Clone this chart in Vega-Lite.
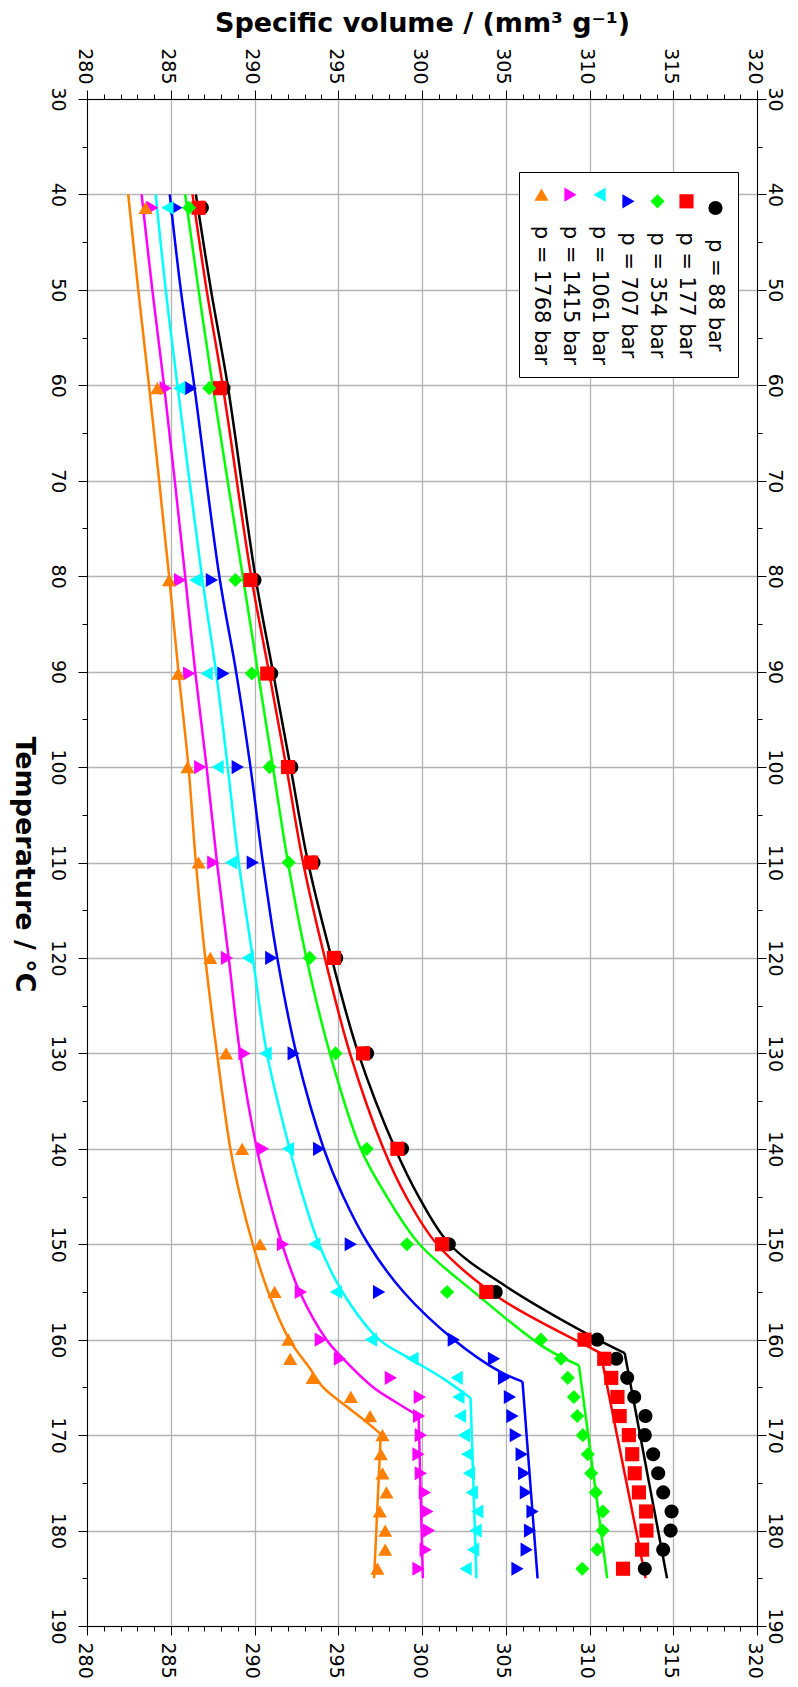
{
"$schema": "https://vega.github.io/schema/vega-lite/v6.json",
"width": 670, "height": 1527,
"autosize": {"type": "none"},
"padding": {"left": 87, "top": 99, "right": 41, "bottom": 61},
"background": "white",
"config": {
 "view": {"stroke": null},
 "axis": {"domainColor": "black", "domainWidth": 1, "tickColor": "black", "tickWidth": 1, "tickSize": 9, "labelColor": "black", "titleColor": "black", "labelFont": "DejaVu Sans", "labelFontSize": 19, "titleFont": "DejaVu Sans", "titleFontSize": 27, "titleFontWeight": "bold", "gridColor": "#b3b3b3", "gridWidth": 1.3, "labelAngle": 90, "labelFlush": false, "labelOverlap": false}
},
"datasets": {
 "fits": [
{"series":"p = 88 bar","seg":"a","T":40,"V":286.5},{"series":"p = 88 bar","seg":"a","T":50,"V":287.4},{"series":"p = 88 bar","seg":"a","T":60,"V":288.4},{"series":"p = 88 bar","seg":"a","T":80,"V":290.05},{"series":"p = 88 bar","seg":"a","T":90,"V":291.1},{"series":"p = 88 bar","seg":"a","T":100,"V":292.15},{"series":"p = 88 bar","seg":"a","T":110,"V":293.2},{"series":"p = 88 bar","seg":"a","T":120,"V":294.6},{"series":"p = 88 bar","seg":"a","T":130,"V":296.2},{"series":"p = 88 bar","seg":"a","T":140,"V":298.4},{"series":"p = 88 bar","seg":"a","T":145,"V":299.8},{"series":"p = 88 bar","seg":"a","T":150,"V":301.65},{"series":"p = 88 bar","seg":"a","T":154.4,"V":305.0},{"series":"p = 88 bar","seg":"a","T":159.6,"V":310.07},{"series":"p = 88 bar","seg":"a","T":161.4,"V":312.1},{"series":"p = 88 bar","seg":"b","T":161.4,"V":312.1},{"series":"p = 88 bar","seg":"b","T":185,"V":314.63},
{"series":"p = 177 bar","seg":"a","T":40,"V":286.3},{"series":"p = 177 bar","seg":"a","T":50,"V":287.14},{"series":"p = 177 bar","seg":"a","T":60,"V":288.1},{"series":"p = 177 bar","seg":"a","T":80,"V":289.8},{"series":"p = 177 bar","seg":"a","T":90,"V":290.86},{"series":"p = 177 bar","seg":"a","T":100,"V":291.9},{"series":"p = 177 bar","seg":"a","T":110,"V":292.9},{"series":"p = 177 bar","seg":"a","T":120,"V":294.2},{"series":"p = 177 bar","seg":"a","T":130,"V":295.7},{"series":"p = 177 bar","seg":"a","T":140,"V":297.7},{"series":"p = 177 bar","seg":"a","T":145,"V":299.05},{"series":"p = 177 bar","seg":"a","T":150,"V":300.9},{"series":"p = 177 bar","seg":"a","T":155.6,"V":304.6},{"series":"p = 177 bar","seg":"a","T":160.5,"V":309.67},{"series":"p = 177 bar","seg":"a","T":161.4,"V":310.66},{"series":"p = 177 bar","seg":"b","T":161.4,"V":310.66},{"series":"p = 177 bar","seg":"b","T":185,"V":313.35},
{"series":"p = 354 bar","seg":"a","T":40,"V":285.86},{"series":"p = 354 bar","seg":"a","T":50,"V":286.66},{"series":"p = 354 bar","seg":"a","T":60,"V":287.5},{"series":"p = 354 bar","seg":"a","T":80,"V":289.3},{"series":"p = 354 bar","seg":"a","T":90,"V":290.2},{"series":"p = 354 bar","seg":"a","T":100,"V":291.1},{"series":"p = 354 bar","seg":"a","T":110,"V":292.0},{"series":"p = 354 bar","seg":"a","T":120,"V":293.1},{"series":"p = 354 bar","seg":"a","T":130,"V":294.5},{"series":"p = 354 bar","seg":"a","T":140,"V":296.34},{"series":"p = 354 bar","seg":"a","T":145,"V":297.9},{"series":"p = 354 bar","seg":"a","T":150,"V":299.85},{"series":"p = 354 bar","seg":"a","T":155,"V":303.1},{"series":"p = 354 bar","seg":"a","T":160.7,"V":307.2},{"series":"p = 354 bar","seg":"a","T":162.7,"V":309.37},{"series":"p = 354 bar","seg":"b","T":162.7,"V":309.37},{"series":"p = 354 bar","seg":"b","T":185,"V":311.06},
{"series":"p = 707 bar","seg":"a","T":40,"V":284.94},{"series":"p = 707 bar","seg":"a","T":50,"V":285.6},{"series":"p = 707 bar","seg":"a","T":60,"V":286.4},{"series":"p = 707 bar","seg":"a","T":80,"V":287.9},{"series":"p = 707 bar","seg":"a","T":90,"V":288.9},{"series":"p = 707 bar","seg":"a","T":100,"V":289.76},{"series":"p = 707 bar","seg":"a","T":110,"V":290.5},{"series":"p = 707 bar","seg":"a","T":120,"V":291.36},{"series":"p = 707 bar","seg":"a","T":130,"V":292.5},{"series":"p = 707 bar","seg":"a","T":140,"V":294.14},{"series":"p = 707 bar","seg":"a","T":145,"V":295.3},{"series":"p = 707 bar","seg":"a","T":150,"V":296.8},{"series":"p = 707 bar","seg":"a","T":155,"V":298.9},{"series":"p = 707 bar","seg":"a","T":160,"V":301.9},{"series":"p = 707 bar","seg":"a","T":163.3,"V":304.6},{"series":"p = 707 bar","seg":"a","T":164.4,"V":306.0},{"series":"p = 707 bar","seg":"b","T":164.4,"V":306.0},{"series":"p = 707 bar","seg":"b","T":185,"V":306.9},
{"series":"p = 1061 bar","seg":"a","T":40,"V":284.1},{"series":"p = 1061 bar","seg":"a","T":50,"V":284.7},{"series":"p = 1061 bar","seg":"a","T":60,"V":285.4},{"series":"p = 1061 bar","seg":"a","T":80,"V":286.86},{"series":"p = 1061 bar","seg":"a","T":90,"V":287.7},{"series":"p = 1061 bar","seg":"a","T":100,"V":288.4},{"series":"p = 1061 bar","seg":"a","T":110,"V":289.06},{"series":"p = 1061 bar","seg":"a","T":120,"V":289.9},{"series":"p = 1061 bar","seg":"a","T":130,"V":290.74},{"series":"p = 1061 bar","seg":"a","T":140,"V":292.1},{"series":"p = 1061 bar","seg":"a","T":145,"V":292.9},{"series":"p = 1061 bar","seg":"a","T":150,"V":293.85},{"series":"p = 1061 bar","seg":"a","T":155,"V":295.25},{"series":"p = 1061 bar","seg":"a","T":160,"V":297.45},{"series":"p = 1061 bar","seg":"a","T":162,"V":299.3},{"series":"p = 1061 bar","seg":"a","T":164,"V":301.2},{"series":"p = 1061 bar","seg":"a","T":166.1,"V":302.9},{"series":"p = 1061 bar","seg":"b","T":166.1,"V":302.9},{"series":"p = 1061 bar","seg":"b","T":185,"V":303.25},
{"series":"p = 1415 bar","seg":"a","T":40,"V":283.26},{"series":"p = 1415 bar","seg":"a","T":50,"V":283.9},{"series":"p = 1415 bar","seg":"a","T":60,"V":284.6},{"series":"p = 1415 bar","seg":"a","T":80,"V":285.86},{"series":"p = 1415 bar","seg":"a","T":90,"V":286.46},{"series":"p = 1415 bar","seg":"a","T":100,"V":287.14},{"series":"p = 1415 bar","seg":"a","T":110,"V":287.76},{"series":"p = 1415 bar","seg":"a","T":120,"V":288.46},{"series":"p = 1415 bar","seg":"a","T":130,"V":289.14},{"series":"p = 1415 bar","seg":"a","T":140,"V":290.14},{"series":"p = 1415 bar","seg":"a","T":145,"V":290.84},{"series":"p = 1415 bar","seg":"a","T":150,"V":291.65},{"series":"p = 1415 bar","seg":"a","T":155,"V":292.7},{"series":"p = 1415 bar","seg":"a","T":160,"V":294.3},{"series":"p = 1415 bar","seg":"a","T":162,"V":295.3},{"series":"p = 1415 bar","seg":"a","T":165,"V":297.1},{"series":"p = 1415 bar","seg":"a","T":166.5,"V":298.4},{"series":"p = 1415 bar","seg":"a","T":168,"V":299.8},{"series":"p = 1415 bar","seg":"b","T":168,"V":299.8},{"series":"p = 1415 bar","seg":"b","T":185,"V":300.05},
{"series":"p = 1768 bar","seg":"a","T":40,"V":282.46},{"series":"p = 1768 bar","seg":"a","T":50,"V":283.06},{"series":"p = 1768 bar","seg":"a","T":60,"V":283.7},{"series":"p = 1768 bar","seg":"a","T":80,"V":284.9},{"series":"p = 1768 bar","seg":"a","T":90,"V":285.46},{"series":"p = 1768 bar","seg":"a","T":100,"V":286.06},{"series":"p = 1768 bar","seg":"a","T":110,"V":286.5},{"series":"p = 1768 bar","seg":"a","T":120,"V":287.06},{"series":"p = 1768 bar","seg":"a","T":130,"V":287.76},{"series":"p = 1768 bar","seg":"a","T":140,"V":288.56},{"series":"p = 1768 bar","seg":"a","T":145,"V":289.15},{"series":"p = 1768 bar","seg":"a","T":150,"V":289.9},{"series":"p = 1768 bar","seg":"a","T":155,"V":290.82},{"series":"p = 1768 bar","seg":"a","T":160,"V":292.08},{"series":"p = 1768 bar","seg":"a","T":163,"V":293.3},{"series":"p = 1768 bar","seg":"a","T":165,"V":294.1},{"series":"p = 1768 bar","seg":"a","T":167,"V":295.5},{"series":"p = 1768 bar","seg":"a","T":168.5,"V":296.6},{"series":"p = 1768 bar","seg":"a","T":169.9,"V":297.54},{"series":"p = 1768 bar","seg":"b","T":169.9,"V":297.54},{"series":"p = 1768 bar","seg":"b","T":185,"V":297.14}
 ],
 "meas": [
{"series":"p = 88 bar","T":41.4,"V":286.86},{"series":"p = 88 bar","T":60.3,"V":288.15},{"series":"p = 88 bar","T":80.4,"V":290.0},{"series":"p = 88 bar","T":90.2,"V":291.0},{"series":"p = 88 bar","T":100,"V":292.2},{"series":"p = 88 bar","T":110,"V":293.52},{"series":"p = 88 bar","T":120,"V":294.88},{"series":"p = 88 bar","T":130,"V":296.72},{"series":"p = 88 bar","T":140,"V":298.81},{"series":"p = 88 bar","T":150,"V":301.6},{"series":"p = 88 bar","T":155,"V":304.4},{"series":"p = 88 bar","T":160,"V":310.46},{"series":"p = 88 bar","T":162,"V":311.6},{"series":"p = 88 bar","T":164,"V":312.25},{"series":"p = 88 bar","T":166,"V":312.67},{"series":"p = 88 bar","T":168,"V":313.34},{"series":"p = 88 bar","T":170,"V":313.3},{"series":"p = 88 bar","T":172,"V":313.8},{"series":"p = 88 bar","T":174,"V":314.1},{"series":"p = 88 bar","T":176,"V":314.4},{"series":"p = 88 bar","T":178,"V":314.9},{"series":"p = 88 bar","T":180,"V":314.84},{"series":"p = 88 bar","T":182,"V":314.4},{"series":"p = 88 bar","T":184,"V":313.3},
{"series":"p = 177 bar","T":41.4,"V":286.66},{"series":"p = 177 bar","T":60.3,"V":287.94},{"series":"p = 177 bar","T":80.4,"V":289.76},{"series":"p = 177 bar","T":90.2,"V":290.76},{"series":"p = 177 bar","T":100,"V":292.0},{"series":"p = 177 bar","T":110,"V":293.38},{"series":"p = 177 bar","T":120,"V":294.74},{"series":"p = 177 bar","T":130,"V":296.48},{"series":"p = 177 bar","T":140,"V":298.53},{"series":"p = 177 bar","T":150,"V":301.2},{"series":"p = 177 bar","T":155,"V":303.84},{"series":"p = 177 bar","T":160,"V":309.7},{"series":"p = 177 bar","T":162,"V":310.88},{"series":"p = 177 bar","T":164,"V":311.3},{"series":"p = 177 bar","T":166,"V":311.67},{"series":"p = 177 bar","T":168,"V":311.8},{"series":"p = 177 bar","T":170,"V":312.35},{"series":"p = 177 bar","T":172,"V":312.55},{"series":"p = 177 bar","T":174,"V":312.7},{"series":"p = 177 bar","T":176,"V":312.95},{"series":"p = 177 bar","T":178,"V":313.38},{"series":"p = 177 bar","T":180,"V":313.4},{"series":"p = 177 bar","T":182,"V":313.14},{"series":"p = 177 bar","T":184,"V":312.0},
{"series":"p = 354 bar","T":41.4,"V":286.1},{"series":"p = 354 bar","T":60.3,"V":287.3},{"series":"p = 354 bar","T":80.4,"V":288.86},{"series":"p = 354 bar","T":90.2,"V":289.84},{"series":"p = 354 bar","T":100,"V":290.9},{"series":"p = 354 bar","T":110,"V":292.04},{"series":"p = 354 bar","T":120,"V":293.3},{"series":"p = 354 bar","T":130,"V":294.84},{"series":"p = 354 bar","T":140,"V":296.7},{"series":"p = 354 bar","T":150,"V":299.1},{"series":"p = 354 bar","T":155,"V":301.5},{"series":"p = 354 bar","T":160,"V":307.1},{"series":"p = 354 bar","T":162,"V":308.3},{"series":"p = 354 bar","T":164,"V":308.7},{"series":"p = 354 bar","T":166,"V":309.07},{"series":"p = 354 bar","T":168,"V":309.27},{"series":"p = 354 bar","T":170,"V":309.6},{"series":"p = 354 bar","T":172,"V":309.9},{"series":"p = 354 bar","T":174,"V":310.1},{"series":"p = 354 bar","T":176,"V":310.37},{"series":"p = 354 bar","T":178,"V":310.8},{"series":"p = 354 bar","T":180,"V":310.78},{"series":"p = 354 bar","T":182,"V":310.46},{"series":"p = 354 bar","T":184,"V":309.57},
{"series":"p = 707 bar","T":41.4,"V":285.34},{"series":"p = 707 bar","T":60.3,"V":286.2},{"series":"p = 707 bar","T":80.4,"V":287.46},{"series":"p = 707 bar","T":90.2,"V":288.14},{"series":"p = 707 bar","T":100,"V":289.0},{"series":"p = 707 bar","T":110,"V":289.9},{"series":"p = 707 bar","T":120,"V":291.0},{"series":"p = 707 bar","T":130,"V":292.34},{"series":"p = 707 bar","T":140,"V":293.86},{"series":"p = 707 bar","T":150,"V":295.75},{"series":"p = 707 bar","T":155,"V":297.44},{"series":"p = 707 bar","T":160,"V":301.9},{"series":"p = 707 bar","T":162,"V":304.3},{"series":"p = 707 bar","T":164,"V":304.9},{"series":"p = 707 bar","T":166,"V":305.25},{"series":"p = 707 bar","T":168,"V":305.4},{"series":"p = 707 bar","T":170,"V":305.6},{"series":"p = 707 bar","T":172,"V":305.95},{"series":"p = 707 bar","T":174,"V":306.1},{"series":"p = 707 bar","T":176,"V":306.2},{"series":"p = 707 bar","T":178,"V":306.6},{"series":"p = 707 bar","T":180,"V":306.45},{"series":"p = 707 bar","T":182,"V":306.25},{"series":"p = 707 bar","T":184,"V":305.7},
{"series":"p = 1061 bar","T":41.4,"V":284.8},{"series":"p = 1061 bar","T":60.3,"V":285.5},{"series":"p = 1061 bar","T":80.4,"V":286.46},{"series":"p = 1061 bar","T":90.2,"V":287.14},{"series":"p = 1061 bar","T":100,"V":287.8},{"series":"p = 1061 bar","T":110,"V":288.6},{"series":"p = 1061 bar","T":120,"V":289.6},{"series":"p = 1061 bar","T":130,"V":290.66},{"series":"p = 1061 bar","T":140,"V":292.0},{"series":"p = 1061 bar","T":150,"V":293.57},{"series":"p = 1061 bar","T":155,"V":294.86},{"series":"p = 1061 bar","T":160,"V":296.95},{"series":"p = 1061 bar","T":162,"V":299.43},{"series":"p = 1061 bar","T":164,"V":302.07},{"series":"p = 1061 bar","T":166,"V":302.17},{"series":"p = 1061 bar","T":168,"V":302.27},{"series":"p = 1061 bar","T":170,"V":302.5},{"series":"p = 1061 bar","T":172,"V":302.7},{"series":"p = 1061 bar","T":174,"V":302.8},{"series":"p = 1061 bar","T":176,"V":302.97},{"series":"p = 1061 bar","T":178,"V":303.3},{"series":"p = 1061 bar","T":180,"V":303.2},{"series":"p = 1061 bar","T":182,"V":303.05},{"series":"p = 1061 bar","T":184,"V":302.6},
{"series":"p = 1415 bar","T":41.4,"V":283.9},{"series":"p = 1415 bar","T":60.3,"V":284.7},{"series":"p = 1415 bar","T":80.4,"V":285.56},{"series":"p = 1415 bar","T":90.2,"V":286.1},{"series":"p = 1415 bar","T":100,"V":286.76},{"series":"p = 1415 bar","T":110,"V":287.54},{"series":"p = 1415 bar","T":120,"V":288.36},{"series":"p = 1415 bar","T":130,"V":289.4},{"series":"p = 1415 bar","T":140,"V":290.5},{"series":"p = 1415 bar","T":150,"V":291.7},{"series":"p = 1415 bar","T":155,"V":292.77},{"series":"p = 1415 bar","T":160,"V":293.96},{"series":"p = 1415 bar","T":162,"V":295.1},{"series":"p = 1415 bar","T":164,"V":298.14},{"series":"p = 1415 bar","T":166,"V":299.87},{"series":"p = 1415 bar","T":168,"V":299.83},{"series":"p = 1415 bar","T":170,"V":299.93},{"series":"p = 1415 bar","T":172,"V":299.79},{"series":"p = 1415 bar","T":174,"V":299.93},{"series":"p = 1415 bar","T":176,"V":300.17},{"series":"p = 1415 bar","T":178,"V":300.32},{"series":"p = 1415 bar","T":180,"V":300.42},{"series":"p = 1415 bar","T":182,"V":300.22},{"series":"p = 1415 bar","T":184,"V":299.79},
{"series":"p = 1768 bar","T":41.4,"V":283.5},{"series":"p = 1768 bar","T":60.3,"V":284.2},{"series":"p = 1768 bar","T":80.4,"V":284.9},{"series":"p = 1768 bar","T":90.2,"V":285.44},{"series":"p = 1768 bar","T":100,"V":286.0},{"series":"p = 1768 bar","T":110,"V":286.66},{"series":"p = 1768 bar","T":120,"V":287.36},{"series":"p = 1768 bar","T":130,"V":288.3},{"series":"p = 1768 bar","T":140,"V":289.26},{"series":"p = 1768 bar","T":150,"V":290.33},{"series":"p = 1768 bar","T":155,"V":291.2},{"series":"p = 1768 bar","T":160,"V":292.03},{"series":"p = 1768 bar","T":162,"V":292.13},{"series":"p = 1768 bar","T":164,"V":293.47},{"series":"p = 1768 bar","T":166,"V":295.75},{"series":"p = 1768 bar","T":168,"V":296.9},{"series":"p = 1768 bar","T":170,"V":297.64},{"series":"p = 1768 bar","T":172,"V":297.54},{"series":"p = 1768 bar","T":174,"V":297.64},{"series":"p = 1768 bar","T":176,"V":297.88},{"series":"p = 1768 bar","T":178,"V":297.48},{"series":"p = 1768 bar","T":180,"V":297.8},{"series":"p = 1768 bar","T":182,"V":297.8},{"series":"p = 1768 bar","T":184,"V":297.34}
 ]
},
"layer": [
 {
  "data": {"name": "fits"},
  "mark": {"type": "line", "strokeWidth": 2.5, "interpolate": "catmull-rom"},
  "encoding": {
   "x": {"field": "V", "type": "quantitative", "scale": {"domain": [280, 320], "nice": false, "zero": false},
    "axis": {"orient": "top", "values": [280,285,290,295,300,305,310,315,320], "grid": true, "title": "Specific volume / (mm³ g⁻¹)", "titleX": 335, "titleY": -68, "titleAlign": "center", "titleBaseline": "alphabetic", "titleAngle": 0, "labelAlign": "right", "labelBaseline": "middle", "labelPadding": 6, "labelOffset": -3}},
   "y": {"field": "T", "type": "quantitative", "scale": {"domain": [30, 190], "nice": false, "zero": false, "reverse": true},
    "axis": {"orient": "left", "values": [30,40,50,60,70,80,90,100,110,120,130,140,150,160,170,180,190], "grid": true, "title": "Temperature / °C", "titleAngle": 90, "titleX": -72, "titleY": 765, "titleAlign": "center", "titleBaseline": "alphabetic", "labelAlign": "center", "labelBaseline": "top", "labelPadding": 12}},
   "stroke": {"field": "series", "type": "nominal", "scale": {"domain": ["p = 88 bar","p = 177 bar","p = 354 bar","p = 707 bar","p = 1061 bar","p = 1415 bar","p = 1768 bar"], "range": ["#000000","#ff0000","#00ff00","#0000ff","#00ffff","#ff00ff","#ff7f00"]}, "legend": null},
   "detail": {"field": "seg", "type": "nominal"},
   "order": {"field": "T", "type": "quantitative"}
  }
 },
 {
  "data": {"name": "meas"},
  "mark": {"type": "point", "filled": true, "opacity": 1},
  "encoding": {
   "x": {"field": "V", "type": "quantitative", "scale": {"domain": [280, 320], "nice": false, "zero": false},
    "axis": {"orient": "bottom", "values": [280,285,290,295,300,305,310,315,320], "grid": false, "title": null, "labelAlign": "left", "labelBaseline": "middle", "labelPadding": 7, "labelOffset": -3}},
   "y": {"field": "T", "type": "quantitative", "scale": {"domain": [30, 190], "nice": false, "zero": false, "reverse": true},
    "axis": {"orient": "right", "values": [30,40,50,60,70,80,90,100,110,120,130,140,150,160,170,180,190], "grid": false, "title": null, "labelAlign": "center", "labelBaseline": "alphabetic", "labelPadding": 2}},
   "color": {"field": "series", "type": "nominal", "scale": {"domain": ["p = 1768 bar","p = 1415 bar","p = 1061 bar","p = 707 bar","p = 354 bar","p = 177 bar","p = 88 bar"], "range": ["#ff7f00","#ff00ff","#00ffff","#0000ff","#00ff00","#ff0000","#000000"]},
    "legend": {"orient": "none", "legendX": 432, "legendY": 73, "direction": "horizontal", "title": null, "padding": 12, "strokeColor": "black", "fillColor": "white", "cornerRadius": 0, "symbolSize": 160, "symbolStrokeWidth": 0, "labelFont": "DejaVu Sans", "labelFontSize": 21, "labelColor": "black", "labelLimit": 400, "labelAlign": "left", "labelBaseline": "middle", "labelOffset": -11, "columnPadding": 7, "rowPadding": 0, "encoding": {"labels": {"angle": {"value": 90}, "dx": {"value": 31}}}}},
   "shape": {"field": "series", "type": "nominal", "scale": {"domain": ["p = 1768 bar","p = 1415 bar","p = 1061 bar","p = 707 bar","p = 354 bar","p = 177 bar","p = 88 bar"], "range": ["triangle-up","triangle-right","triangle-left","triangle-right","diamond","square","circle"]},
    "legend": {"orient": "none", "legendX": 432, "legendY": 73, "direction": "horizontal", "title": null, "padding": 12, "strokeColor": "black", "fillColor": "white", "cornerRadius": 0, "symbolSize": 160, "symbolStrokeWidth": 0, "labelFont": "DejaVu Sans", "labelFontSize": 21, "labelColor": "black", "labelLimit": 400, "labelAlign": "left", "labelBaseline": "middle", "labelOffset": -11, "columnPadding": 7, "rowPadding": 0, "encoding": {"labels": {"angle": {"value": 90}, "dx": {"value": 31}}}}},
   "size": {"field": "series", "type": "nominal", "scale": {"domain": ["p = 1768 bar","p = 1415 bar","p = 1061 bar","p = 707 bar","p = 354 bar","p = 177 bar","p = 88 bar"], "range": [200,200,200,200,190,140,120]}, "legend": null}
  }
 },
 {
  "data": {"name": "meas"},
  "mark": {"type": "point", "opacity": 0},
  "encoding": {
   "x": {"field": "V", "type": "quantitative", "scale": {"domain": [280, 320], "nice": false, "zero": false},
    "axis": {"orient": "top", "values": [281,282,283,284,286,287,288,289,291,292,293,294,296,297,298,299,301,302,303,304,306,307,308,309,311,312,313,314,316,317,318,319], "grid": false, "title": null, "labels": false, "domain": false, "tickSize": 5}},
   "y": {"field": "T", "type": "quantitative", "scale": {"domain": [30, 190], "nice": false, "zero": false, "reverse": true},
    "axis": {"orient": "left", "values": [35,45,55,65,75,85,95,105,115,125,135,145,155,165,175,185], "grid": false, "title": null, "labels": false, "domain": false, "tickSize": 5}}
  }
 },
 {
  "data": {"name": "meas"},
  "mark": {"type": "point", "opacity": 0},
  "encoding": {
   "x": {"field": "V", "type": "quantitative", "scale": {"domain": [280, 320], "nice": false, "zero": false},
    "axis": {"orient": "bottom", "values": [281,282,283,284,286,287,288,289,291,292,293,294,296,297,298,299,301,302,303,304,306,307,308,309,311,312,313,314,316,317,318,319], "grid": false, "title": null, "labels": false, "domain": false, "tickSize": 5}},
   "y": {"field": "T", "type": "quantitative", "scale": {"domain": [30, 190], "nice": false, "zero": false, "reverse": true},
    "axis": {"orient": "right", "values": [35,45,55,65,75,85,95,105,115,125,135,145,155,165,175,185], "grid": false, "title": null, "labels": false, "domain": false, "tickSize": 5}}
  }
 }
],
"resolve": {"axis": {"x": "independent", "y": "independent"}}
}
